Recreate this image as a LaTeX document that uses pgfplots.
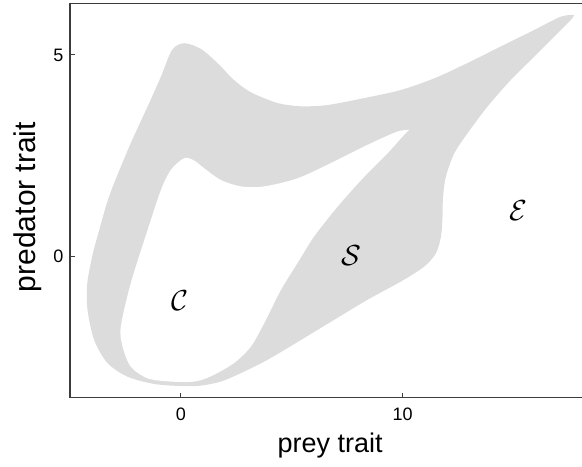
\documentclass[border=0pt]{standalone}
\usepackage{graphicx}
\usepackage{fontspec}
\setmainfont{Liberation Sans}
\usepackage{pgfplots}
\pgfplotsset{compat=1.18}
\definecolor{band}{RGB}{220,220,220}
\definecolor{axc}{RGB}{60,60,60}
\begin{document}
\begin{tikzpicture}
\begin{axis}[
  scale only axis, width=512pt, height=394.4pt,
  xmin=-5, xmax=18.09, ymin=-3.5, ymax=6.28,
  axis x line=box, axis y line*=left,
  every outer y axis line/.append style={-},
  every outer x axis line/.append style={-},
  axis line style={axc, line width=1.1pt},
  xtick={0,10}, ytick={0,5}, xtick pos=left, ytick pos=left,
  tick style={axc, line width=1pt},
  major tick length=5pt,
  tick align=inside,
  /pgf/number format/assume math mode=true,
  tick label style={font=\fontsize{18}{20}\selectfont},
  xticklabel style={yshift=-7pt},
  yticklabel style={xshift=-3pt},
  xlabel={prey trait}, ylabel={predator trait},
  xlabel style={font=\fontsize{27}{30}\selectfont, at={(rel axis cs:0.508,-0.1377)}, anchor=base},
  ylabel style={font=\fontsize{30}{32}\selectfont, at={(rel axis cs:-0.068,0.4835)}, anchor=base},
]
\addplot[draw=none, fill=band, smooth] coordinates {
(17.74,5.99) (17.14,5.95) (15.94,5.62) (14.43,5.21) (12.93,4.80) (11.43,4.42)
(9.92,4.13) (8.27,3.93) (6.77,3.77) (6.00,3.73) (5.26,3.73) (4.40,3.80) (3.61,3.96) (3.01,4.12)
(2.35,4.40) (1.65,4.80) (0.90,5.15) (0.15,5.29) (-0.40,5.12) (-0.90,4.46)
(-1.50,3.72) (-2.26,2.81) (-3.01,1.82) (-3.35,1.30) (-3.70,0.62) (-3.98,0.05)
(-4.22,-0.66) (-4.21,-1.32) (-3.91,-2.07) (-3.31,-2.64) (-2.40,-2.98) (-1.20,-3.16)
(0,-3.21) (0.90,-3.20) (1.80,-3.10) (2.71,-2.89) (3.91,-2.56) (5.41,-2.07)
(6.91,-1.57) (8.42,-1.07) (9.92,-0.62) (10.97,-0.25) (11.50,0.08) (11.73,0.50)
(11.80,1.00) (11.82,1.45) (11.95,1.98) (12.33,2.56) (12.93,3.06) (13.83,3.72)
(14.88,4.38) (15.94,4.96) (16.99,5.54) (17.59,5.87) (17.74,5.99)
};
\addplot[draw=none, fill=white, smooth] coordinates {
(10.30,3.14) (9.77,3.10) (8.57,2.81) (6.77,2.32) (5.26,1.94) (3.76,1.74)
(2.71,1.74) (1.80,1.90) (1.05,2.19) (0.60,2.38) (0.15,2.44) (-0.45,2.15)
(-0.90,1.65) (-1.50,0.66) (-2.26,-0.66) (-2.71,-1.74) (-2.63,-2.23) (-2.26,-2.73)
(-1.50,-3.02) (-0.45,-3.10) (0.60,-3.10) (1.35,-2.97) (2.40,-2.64) (3.16,-2.23)
(3.76,-1.65) (4.51,-0.83) (5.26,-0.16) (6.01,0.50) (7.07,1.24) (8.27,1.98)
(9.32,2.56) (10.07,3.02) (10.30,3.14)
};
\node at (axis cs:-0.05,-1.10) {\scalebox{2.9}{$\mathcal{C}$}};
\node at (axis cs:7.71,0.02) {\scalebox{2.9}{$\mathcal{S}$}};
\node at (axis cs:15.22,1.13) {\scalebox{2.9}{$\mathcal{E}$}};
\end{axis}
\pgfresetboundingbox
\useasboundingbox ([shift={(-70pt,-68.3pt)}]current axis.south west) rectangle ([shift={(0pt,3.3pt)}]current axis.north east);
\end{tikzpicture}
\end{document}
